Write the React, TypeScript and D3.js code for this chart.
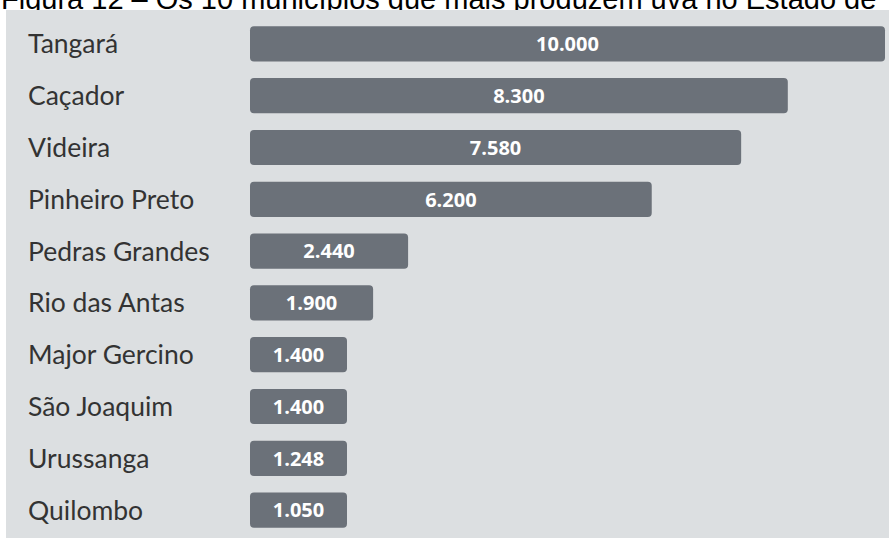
import React from "react";
import * as d3 from "d3";

const categories = [
  "Tangará",
  "Caçador",
  "Videira",
  "Pinheiro Preto",
  "Pedras Grandes",
  "Rio das Antas",
  "Major Gercino",
  "São Joaquim",
  "Urussanga",
  "Quilombo",
];
const values = [10000, 8300, 7580, 6200, 2440, 1900, 1400, 1400, 1248, 1050];
const valueLabels = ["10.000", "8.300", "7.580", "6.200", "2.440", "1.900", "1.400", "1.400", "1.248", "1.050"];
const title = "Figura 12 – Os 10 municípios que mais produzem uva no Estado de";

const W = 889;
const H = 538;

export default function App() {
  const x = d3.scaleLinear().domain([0, 9800]).range([0, 635]).clamp(true);
  const y = d3
    .scaleBand<string>()
    .domain(categories)
    .range([18, 536])
    .paddingInner(0.32)
    .paddingOuter(0.16);
  const x0 = 250;
  const minW = 97;
  const labelFont = "Lato, 'Open Sans', sans-serif";
  const valueFont = "'Open Sans', 'Noto Sans', sans-serif";

  return (
    <svg
      width={W}
      height={H}
      style={{ position: "absolute", left: 0, top: 0, display: "block" }}
    >
      <rect x={0} y={0} width={W} height={H} fill="#ffffff" />
      <text
        x={1}
        y={9}
        fontFamily="'Liberation Sans', Arial, sans-serif"
        fontSize={29}
        fill="#000"
      >
        {title}
      </text>
      <rect x={6} y={10} width={W - 6} height={H - 10} fill="#dcdfe1" />
      {categories.map((c, i) => {
        const by = y(c)!;
        const bw = Math.max(x(values[i]), minW);
        const cy = by + y.bandwidth() / 2;
        return (
          <g key={c}>
            <text
              x={28}
              y={cy}
              dy="0.36em"
              fontFamily={labelFont}
              fontSize={26.5}
              fill="#333333"
            >
              {c}
            </text>
            <rect
              x={x0}
              y={by}
              width={bw}
              height={y.bandwidth()}
              rx={4}
              ry={4}
              fill="#6b7179"
            />
            <text
              x={x0 + bw / 2}
              y={cy}
              dy="0.36em"
              textAnchor="middle"
              fontFamily={valueFont}
              fontWeight={700}
              fontSize={20}
              fill="#ffffff"
            >
              {valueLabels[i]}
            </text>
          </g>
        );
      })}
    </svg>
  );
}
